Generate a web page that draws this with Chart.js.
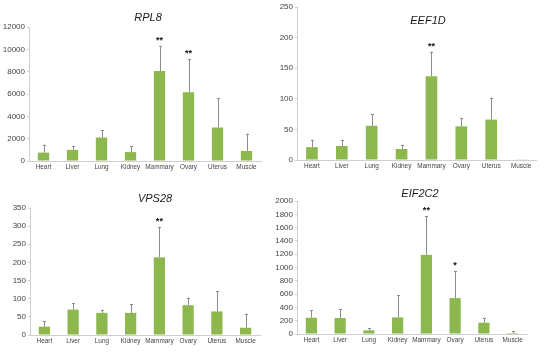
<!DOCTYPE html>
<html><head><meta charset="utf-8">
<script src="https://cdn.jsdelivr.net/npm/chart.js@4.4.0/dist/chart.umd.min.js"></script>
<style>
html,body{margin:0;padding:0;background:#fff;}
#wrap{position:relative;width:544px;height:355px;overflow:hidden;}
.p{position:absolute;}
</style></head>
<body><div id="wrap">
<div class="p" style="left:0;top:0;width:272px;height:180px"><canvas id="c1"></canvas></div>
<div class="p" style="left:272px;top:0;width:272px;height:180px"><canvas id="c2"></canvas></div>
<div class="p" style="left:0;top:180px;width:272px;height:175px"><canvas id="c3"></canvas></div>
<div class="p" style="left:272px;top:180px;width:272px;height:175px"><canvas id="c4"></canvas></div>
</div>
<script>
const categories = ["Heart","Liver","Lung","Kidney","Mammary","Ovary","Uterus","Muscle"];

const rpl8Values = [750, 1000, 2100, 800, 8050, 6150, 3000, 900];
const rpl8Errors = [700, 300, 650, 550, 2250, 3000, 2600, 1550];
const rpl8Stars  = ["", "", "", "", "**", "**", "", ""];

const eef1dValues = [21, 23, 56, 18, 137, 55, 66, 0.5];
const eef1dErrors = [12, 10, 19, 7, 40, 13, 36, 0];
const eef1dStars  = ["", "", "", "", "**", "", "", ""];

const vps28Values = [23, 70, 61, 61, 214, 82, 65, 20];
const vps28Errors = [15, 18, 7, 25, 84, 21, 56, 39];
const vps28Stars  = ["", "", "", "", "**", "", "", ""];

const eif2c2Values = [245, 240, 55, 250, 1190, 540, 170, 15];
const eif2c2Errors = [110, 135, 30, 330, 580, 410, 65, 25];
const eif2c2Stars  = ["", "", "", "", "**", "*", "", ""];

const BAR = '#8db84e';
const ERR = '#8c8c8c';
const AXIS = '#cfcfcf';
const FONT = "'Liberation Sans',Arial,sans-serif";

function makeChart(id, cfg) {
  const panelPlugin = {
    id: 'panel' + id,
    afterDatasetsDraw(chart) {
      const ctx = chart.ctx;
      const meta = chart.getDatasetMeta(0);
      const y = chart.scales.y;
      const xs = chart.scales.x;
      ctx.save();
      ctx.strokeStyle = ERR;
      ctx.lineWidth = 1;
      meta.data.forEach((bar, i) => {
        const v = cfg.values[i], e = cfg.errors[i];
        const x = Math.round(bar.x) + 0.5;
        const y0 = y.getPixelForValue(v);
        const y1 = y.getPixelForValue(v + e);
        if (e > 0) {
          ctx.beginPath();
          ctx.moveTo(x, y0); ctx.lineTo(x, y1);
          ctx.moveTo(x - 1.5, Math.round(y1) + 0.5); ctx.lineTo(x + 1.5, Math.round(y1) + 0.5);
          ctx.stroke();
        }
        if (cfg.stars[i]) {
          ctx.fillStyle = '#111';
          ctx.font = "bold 9px 'Liberation Sans',Arial,sans-serif";
          ctx.textAlign = 'center';
          ctx.textBaseline = 'bottom';
          ctx.fillText(cfg.stars[i], bar.x, y1 - 1);
        }
      });
      // category labels (narrow, like the reference)
      ctx.fillStyle = '#444';
      ctx.font = "8px " + FONT;
      ctx.textAlign = 'center';
      ctx.textBaseline = 'top';
      categories.forEach((c, i) => {
        const px = xs.getPixelForTick(i);
        ctx.save();
        ctx.translate(px, xs.top + 2);
        ctx.scale(0.8, 1);
        ctx.fillText(c, 0, 0);
        ctx.restore();
      });
      ctx.fillStyle = '#1a1a1a';
      ctx.font = "italic 11px " + FONT;
      ctx.textAlign = 'center';
      ctx.textBaseline = 'middle';
      ctx.fillText(cfg.title, cfg.titleX, cfg.titleY);
      ctx.restore();
    }
  };
  return new Chart(document.getElementById(id), {
    type: 'bar',
    data: {
      labels: categories,
      datasets: [{ data: cfg.values, backgroundColor: BAR, borderWidth: 0, barPercentage: 0.85, categoryPercentage: 0.46 }]
    },
    options: {
      responsive: true, maintainAspectRatio: false, animation: false,
      layout: { padding: { left: 0, right: cfg.padRight, top: cfg.padTop, bottom: 0 } },
      plugins: { legend: { display: false }, tooltip: { enabled: false }, title: { display: false } },
      scales: {
        x: {
          grid: { display: false, drawOnChartArea: false },
          border: { display: true, color: AXIS },
          ticks: { display: false },
          afterFit(s) { s.height = cfg.xHeight; }
        },
        y: {
          min: 0, max: cfg.max,
          grid: { display: true, drawOnChartArea: false, color: AXIS, tickLength: 2 },
          border: { display: true, color: AXIS },
          ticks: { stepSize: cfg.step, color: '#444', font: { family: FONT, size: 8 }, padding: 2,
                   callback: (v) => String(v) },
          afterFit(s) { s.width = cfg.yWidth; }
        }
      }
    },
    plugins: [panelPlugin]
  });
}

makeChart('c1', { values: rpl8Values, errors: rpl8Errors, stars: rpl8Stars, title: 'RPL8',
  max: 12000, step: 2000, padTop: 27, padRight: 11, yWidth: 29, xHeight: 19, titleX: 148, titleY: 18 });
makeChart('c2', { values: eef1dValues, errors: eef1dErrors, stars: eef1dStars, title: 'EEF1D',
  max: 250, step: 50, padTop: 7, padRight: 8, yWidth: 25, xHeight: 20, titleX: 156, titleY: 21 });
makeChart('c3', { values: vps28Values, errors: vps28Errors, stars: vps28Stars, title: 'VPS28',
  max: 350, step: 50, padTop: 28, padRight: 12, yWidth: 30, xHeight: 20, titleX: 155, titleY: 19 });
makeChart('c4', { values: eif2c2Values, errors: eif2c2Errors, stars: eif2c2Stars, title: 'EIF2C2',
  max: 2000, step: 200, padTop: 21, padRight: 17, yWidth: 25, xHeight: 21, titleX: 148, titleY: 14 });
</script></body></html>
